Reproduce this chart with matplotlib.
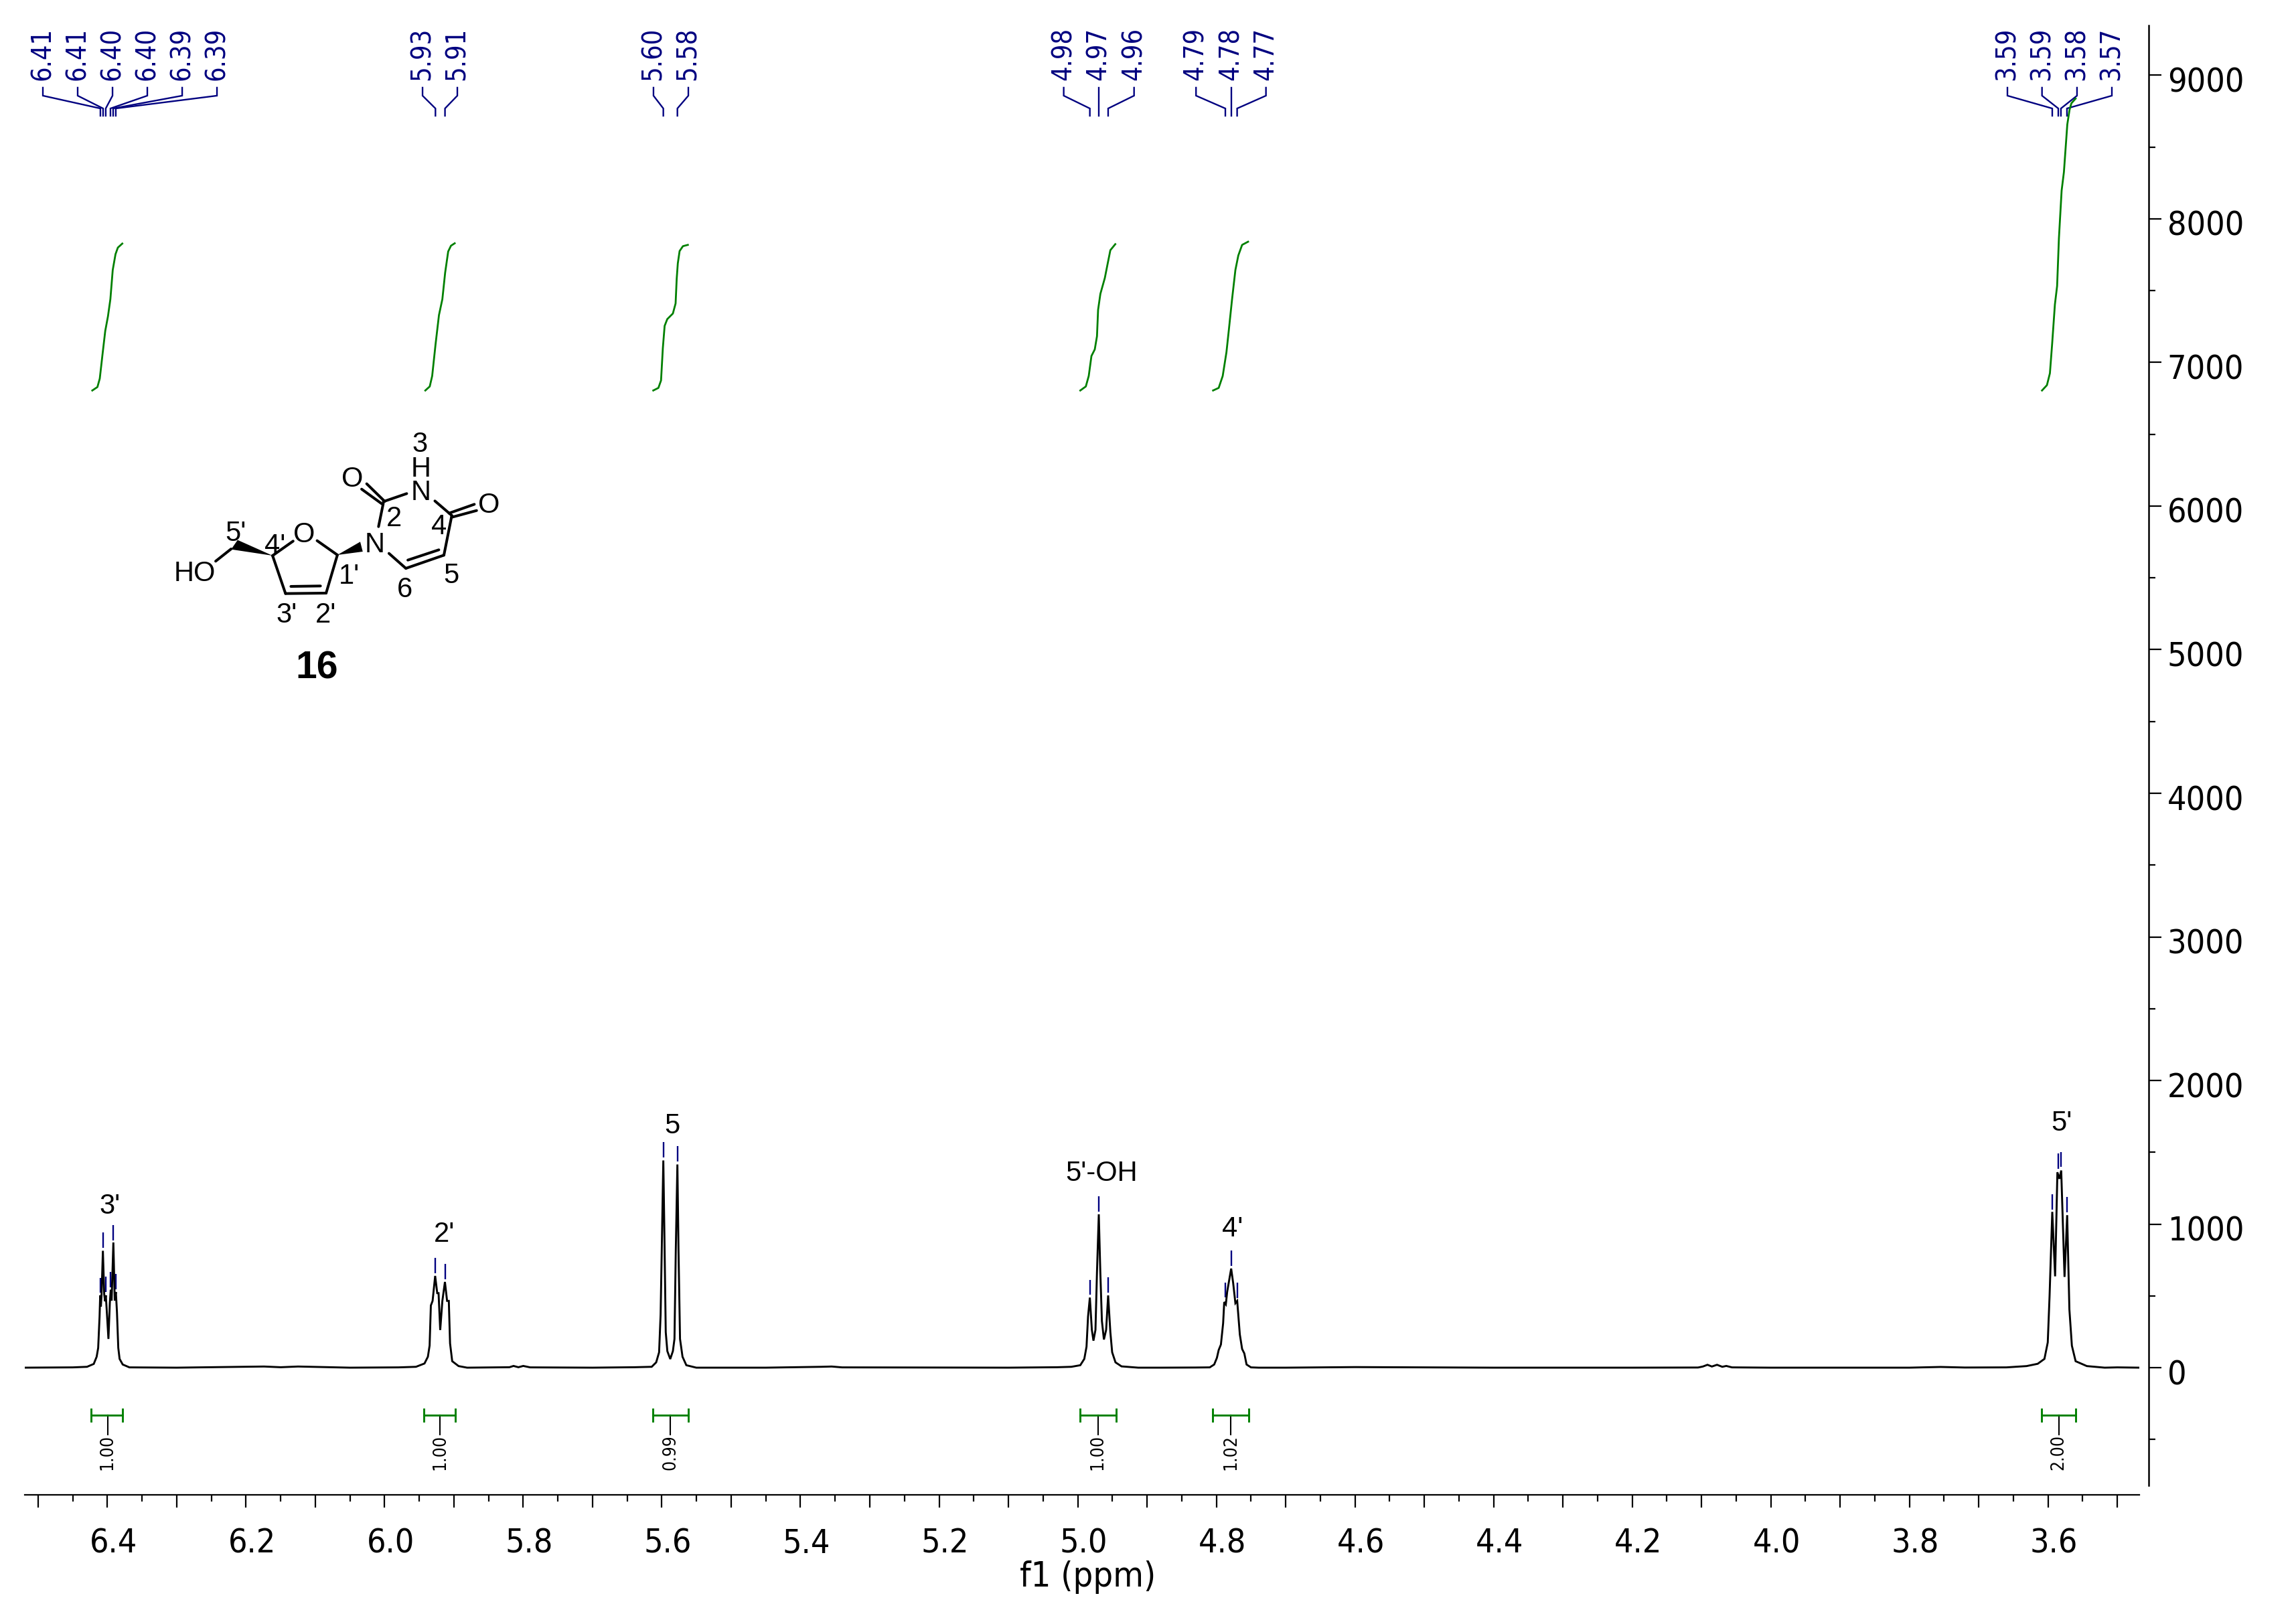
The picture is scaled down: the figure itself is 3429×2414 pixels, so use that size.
import numpy as np
import matplotlib
matplotlib.use("Agg")
import matplotlib.pyplot as plt
from matplotlib.transforms import ScaledTranslation

W, H, DPI = 3430, 2414, 100
plt.rcParams['font.family'] = 'DejaVu Sans'
plt.rcParams['font.stretch'] = 'condensed'
ARIAL = 'Liberation Sans'
NAVY = '#000080'
GREEN = '#008000'

# ---------- spectrum, region by region (ppm, intensity) ----------
base_a_ppm = [6.5195, 6.48, 6.45]
base_a_int = [0, 1, 2]
h3_ppm = [6.4294, 6.4197, 6.4155, 6.4133, 6.4113, 6.4104, 6.4094, 6.4084, 6.4065, 6.4046, 6.4033, 6.4023, 6.4010,
          6.3985, 6.3965, 6.3952, 6.3939, 6.3914, 6.3894, 6.3878, 6.3862, 6.3843, 6.3824, 6.3779, 6.3682]
h3_int = [6, 26, 76, 138, 356, 504, 426, 511, 814, 511, 462, 504, 403,
          200, 449, 542, 468, 872, 468, 527, 387, 138, 61, 22, 2]
base_b_ppm = [6.30, 6.174, 6.15, 6.125, 6.05, 5.98]
base_b_int = [0, 8, 3, 8, 0, 2]
h2_ppm = [5.9548, 5.9425, 5.9376, 5.9351, 5.9333, 5.9308, 5.9271, 5.9241, 5.9222, 5.9198, 5.9167, 5.913, 5.9099,
          5.9074, 5.9056, 5.9025, 5.8933, 5.881]
h2_int = [6, 29, 76, 154, 433, 465, 639, 519, 519, 262, 465, 597, 465, 465, 169, 45, 11, 0]
base_c_ppm = [5.82, 5.814, 5.807, 5.80, 5.79, 5.70, 5.64]
base_c_int = [3, 12, 3, 12, 2, 0, 3]
h5_ppm = [5.6147, 5.6082, 5.604, 5.6018, 5.5998, 5.5979, 5.5963, 5.5944, 5.5921, 5.5879, 5.5841, 5.5818, 5.5799,
          5.5776, 5.576, 5.5738, 5.5702, 5.5647, 5.5503]
h5_int = [6, 37, 107, 371, 915, 1443, 915, 247, 115, 60, 115, 200, 822, 1415, 822, 200, 76, 17, 0]
base_d_ppm = [5.45, 5.37, 5.355, 5.34, 5.10, 5.03]
base_d_int = [0, 6, 8, 2, 0, 3]
oh_ppm = [5.0092, 4.9963, 4.9905, 4.9873, 4.9851, 4.9825, 4.9796, 4.9773, 4.9744, 4.9722, 4.9696, 4.9674, 4.9651,
          4.9622, 4.959, 4.9561, 4.9529, 4.9503, 4.9455, 4.9368, 4.9127]
oh_int = [6, 17, 61, 146, 356, 488, 263, 188, 263, 667, 1068, 667, 325, 196, 263, 503, 247, 107, 37, 9, 0]
base_e_ppm = [4.88, 4.83]
base_e_int = [0, 1]
h4_ppm = [4.8095, 4.8031, 4.7992, 4.7966, 4.7934, 4.7902, 4.7886, 4.7863, 4.7844, 4.7786, 4.7757, 4.7725, 4.7699,
          4.7661, 4.7628, 4.7596, 4.7564, 4.75, 4.7387]
h4_int = [2, 22, 68, 123, 161, 309, 457, 441, 527, 690, 589, 449, 465, 231, 130, 99, 22, 2, 0]
base_f_ppm = [4.70, 4.60, 4.40, 4.20, 4.105, 4.098, 4.0914, 4.085, 4.0776, 4.070, 4.0642, 4.056, 4.00, 3.80, 3.755, 3.72, 3.66]
base_f_int = [0, 4, 0, 0, 1, 8, 20, 8, 20, 6, 12, 2, 0, 0, 5, 1, 2]
h5p_ppm = [3.6310, 3.6149, 3.6052, 3.6004, 3.5978, 3.5939, 3.5898, 3.5865, 3.5836, 3.581, 3.5762, 3.5724, 3.5692,
           3.5656, 3.5602, 3.544, 3.5183]
h5p_int = [11, 27, 61, 176, 498, 1085, 636, 1361, 1315, 1373, 632, 1062, 406, 153, 45, 11, 0]
base_g_ppm = [3.50, 3.4683]
base_g_int = [2, 0]

# ---------- peak picks ----------
pick_ppm = [6.4101, 6.4062, 6.4024, 6.3956, 6.3917, 6.3879, 5.9267, 5.9129, 5.5979, 5.5776,
            4.9825, 4.9696, 4.9561, 4.787, 4.7786, 4.77, 3.5939, 3.5852, 3.5814, 3.5727]
pick_int = [500, 816, 508, 541, 868, 527, 639, 597, 1445, 1417,
            488, 1068, 503, 468, 690, 465, 1082, 1366, 1377, 1063]
pick_labels = ['6.41', '6.41', '6.40', '6.40', '6.39', '6.39', '5.93', '5.91', '5.60', '5.58',
               '4.98', '4.97', '4.96', '4.79', '4.78', '4.77', '3.59', '3.59', '3.58', '3.57']
pick_label_ppm = [6.4931, 6.4429, 6.3926, 6.3424, 6.2921, 6.2419, 5.9453, 5.8951, 5.6121, 5.5618,
                  5.0202, 4.9696, 4.9187, 4.8293, 4.7786, 4.7284, 3.6586, 3.6087, 3.5582, 3.5079]

# ---------- integral curves ----------
int1_ppm = [6.4218, 6.4144, 6.4110, 6.4071, 6.4031, 6.3992, 6.3957, 6.3923, 6.3883, 6.3849, 6.3785]
int1_val = [6805, 6829, 6888, 7054, 7220, 7321, 7441, 7644, 7754, 7800, 7828]
int2_ppm = [5.9413, 5.9349, 5.9314, 5.9265, 5.9216, 5.9167, 5.9127, 5.9083, 5.9043, 5.8989]
int2_val = [6805, 6833, 6906, 7128, 7330, 7441, 7625, 7773, 7813, 7830]
int3_ppm = [5.6124, 5.605, 5.6012, 5.5986, 5.596, 5.5922, 5.5841, 5.5802, 5.5786, 5.577, 5.5744, 5.5696, 5.5625]
int3_val = [6805, 6823, 6875, 7100, 7255, 7302, 7341, 7411, 7582, 7690, 7776, 7810, 7819]
int4_ppm = [4.9963, 4.9883, 4.9841, 4.9802, 4.9754, 4.9722, 4.9706, 4.9673, 4.9609, 4.9571, 4.9529, 4.9458]
int4_val = [6805, 6833, 6906, 7045, 7091, 7183, 7367, 7478, 7588, 7681, 7782, 7824]
int5_ppm = [4.8047, 4.7966, 4.7908, 4.7854, 4.7821, 4.7773, 4.7725, 4.7683, 4.7628, 4.7542]
int5_val = [6805, 6823, 6906, 7072, 7220, 7441, 7644, 7745, 7819, 7841]
int6_ppm = [3.6087, 3.6016, 3.5973, 3.5941, 3.5901, 3.5869, 3.5843, 3.5804, 3.5771, 3.5722, 3.569, 3.5663, 3.5602]
int6_val = [6805, 6842, 6925, 7128, 7404, 7533, 7865, 8197, 8326, 8658, 8759, 8805, 8838]

# ---------- integration brackets ----------
bracket_left = [6.4231, 5.9432, 5.6135, 4.9966, 4.8051, 3.6091]
bracket_right = [6.3782, 5.8981, 5.5619, 4.9448, 4.7529, 3.5601]
bracket_mid = [6.3996, 5.9203, 5.5879, 4.9709, 4.7793, 3.5845]
bracket_labels = ['1.00', '1.00', '0.99', '1.00', '1.02', '2.00']

# ---------- signal assignments ----------
assign_text = ["3'", "2'", "5", "5'-OH", "4'", "5'"]
assign_ppm = [6.396, 5.914, 5.585, 4.966, 4.777, 3.580]
assign_int = [1123, 927, 1683, 1352, 965, 1704]

y_major = list(range(0, 10000, 1000))
y_minor = list(range(-500, 9500, 1000))
x_major = [round(3.5 + 0.1 * i, 1) for i in range(31)]
x_minor = [round(3.55 + 0.1 * i, 2) for i in range(30)]
x_labelled = ['6.4', '6.2', '6.0', '5.8', '5.6', '5.4', '5.2', '5.0', '4.8', '4.6', '4.4', '4.2', '4.0', '3.8', '3.6']

fig = plt.figure(figsize=(W / DPI, H / DPI), dpi=DPI, facecolor='white')
AX_L, AX_R, AX_T, AX_B = 36.7, 3195.0, 37.6, 2233.3
ax = fig.add_axes([AX_L / W, 1 - AX_B / H, (AX_R - AX_L) / W, (AX_B - AX_T) / H])
ax.patch.set_alpha(0)
ax.set_xlim(6.5195, 3.4683)
ax.set_ylim(-887, 9349)

spec_ppm = (base_a_ppm + h3_ppm + base_b_ppm + h2_ppm + base_c_ppm + h5_ppm + base_d_ppm + oh_ppm
            + base_e_ppm + h4_ppm + base_f_ppm + h5p_ppm + base_g_ppm)
spec_int = (base_a_int + h3_int + base_b_int + h2_int + base_c_int + h5_int + base_d_int + oh_int
            + base_e_int + h4_int + base_f_int + h5p_int + base_g_int)
ax.plot(spec_ppm, spec_int, color='black', lw=2.1, solid_joinstyle='miter', zorder=3)

# peak pick sticks and leaders
ax.vlines(pick_ppm, np.array(pick_int) + 20, np.array(pick_int) + 125, color=NAVY, lw=1.7, zorder=2)
for lp, p, t in zip(pick_label_ppm, pick_ppm, pick_labels):
    ax.plot([lp, lp, p, p], [8914, 8858, 8769, 8718], color=NAVY, lw=1.7, solid_joinstyle='miter', zorder=2)
    ax.text(lp, 8965, t, rotation=90, ha='center', va='bottom', color=NAVY, fontsize=28.5)

# integrals
for px_, py_ in [(int1_ppm, int1_val), (int2_ppm, int2_val), (int3_ppm, int3_val),
                 (int4_ppm, int4_val), (int5_ppm, int5_val), (int6_ppm, int6_val)]:
    ax.plot(px_, py_, color=GREEN, lw=2.0, zorder=4)

# brackets
for l, r, m, t in zip(bracket_left, bracket_right, bracket_mid, bracket_labels):
    ax.plot([l, r], [-332, -332], color=GREEN, lw=2.1)
    ax.plot([l, l], [-373, -291], color=GREEN, lw=2.1)
    ax.plot([r, r], [-373, -291], color=GREEN, lw=2.1)
    ax.plot([m, m], [-332, -466], color='black', lw=1.5, zorder=1)
    ax.text(m, -466, t, rotation=90, ha='center', va='top', fontsize=19, color='black')

# assignments
for t, p, i in zip(assign_text, assign_ppm, assign_int):
    ax.text(p, i, t, ha='center', va='center', family=ARIAL, stretch='normal', fontsize=30, color='black')

# axes styling
for s in ['top', 'left']:
    ax.spines[s].set_visible(False)
ax.spines['bottom'].set_linewidth(1.6)
ax.spines['right'].set_position(('outward', 10.0))
ax.spines['right'].set_bounds(-820, 9349)
ax.spines['right'].set_linewidth(1.8)
ax.yaxis.tick_right()
ax.set_xticks(x_major)
ax.set_xticks(x_minor, minor=True)
ax.set_xticklabels([s if s in x_labelled else '' for s in ['%.1f' % v for v in x_major]])
ax.set_yticks(y_major)
ax.set_yticks(y_minor, minor=True)
ax.tick_params(axis='x', which='major', length=14, width=1.6, labelsize=36, pad=20.5)
ax.tick_params(axis='x', which='minor', length=7.5, width=1.6)
ax.tick_params(axis='y', which='major', length=14, width=1.6, labelsize=36, pad=6)
ax.tick_params(axis='y', which='minor', length=7.5, width=1.6)
for lab in ax.get_xticklabels():
    lab.set_transform(lab.get_transform() + ScaledTranslation(9 / DPI, 0, fig.dpi_scale_trans))
for lab in ax.get_yticklabels():
    lab.set_transform(lab.get_transform() + ScaledTranslation(0, -6 / DPI, fig.dpi_scale_trans))

# overlay in image pixels for the label and the structure drawing
ov = fig.add_axes([0, 0, 1, 1])
ov.set_xlim(0, W)
ov.set_ylim(H, 0)
ov.axis('off')
ov.patch.set_alpha(0)
ov.text(1625, 2356, 'f1 (ppm)', ha='center', va='center', fontsize=37.5)

def mx(v):
    return 200 + v / 2.376
def my(v):
    return 620 + v / 3

bonds = [
    (290, 655, 345, 600), (492, 630, 565, 565), (650, 563, 722, 627), (722, 627, 682, 798),
    (682, 798, 538, 800), (662, 766, 557, 768), (538, 800, 492, 630), (905, 620, 965, 687),
    (965, 687, 1100, 628), (972, 650, 1082, 604), (1100, 628, 1128, 450), (1118, 440, 1208, 400),
    (1128, 458, 1216, 428), (1128, 450, 1068, 385), (968, 352, 885, 388), (890, 387, 826, 308),
    (880, 398, 808, 332), (885, 395, 868, 500),
]
for x0, y0, x1, y1 in bonds:
    ov.plot([mx(x0), mx(x1)], [my(y0), my(y1)], color='black', lw=2.9, solid_capstyle='round')
for tri in [[(492, 630), (345, 602), (368, 560)], [(722, 627), (803, 568), (812, 612)]]:
    ov.fill([mx(a) for a, b in tri], [my(b) for a, b in tri], color='black', lw=0)

mol_text = [("HO", 215, 712), ("O", 605, 537), ("N", 855, 582), ("N", 1018, 347), ("H", 1018, 242),
            ("3", 1015, 132), ("O", 776, 287), ("O", 1260, 405), ("5'", 360, 532), ("4'", 500, 587),
            ("2", 922, 465), ("4", 1082, 502), ("1'", 765, 722), ("6", 962, 784), ("5", 1127, 720),
            ("3'", 543, 897), ("2'", 680, 897)]
for t, a, b in mol_text:
    ov.text(mx(a), my(b), t, ha='center', va='center', family=ARIAL, stretch='normal', fontsize=30, color='black')
ov.text(mx(650), my(1137), '16', ha='center', va='center', family=ARIAL, stretch='normal',
        fontsize=41, fontweight='bold', color='black')

fig.savefig('out.png', dpi=DPI, facecolor='white')
